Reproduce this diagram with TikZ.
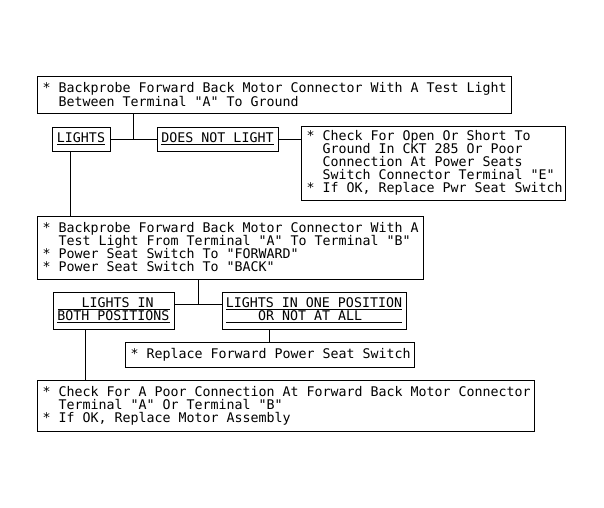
\documentclass[tikz,border=0pt]{standalone}
\usepackage{fontspec}
\newfontfamily\monofnt[WordSpace={1,0,0}]{DejaVu Sans Mono}
\newcommand\ind{\hspace*{16pt}}
\begin{document}
\begin{tikzpicture}[x=1pt,y=-1pt,
  every node/.style={font=\monofnt\fontsize{13.29}{13}\selectfont},
  frame/.style={draw, line width=1pt, inner sep=0pt, anchor=center},
  txt/.style={inner sep=0pt, align=left, anchor=west},
  lblbox/.style={draw, line width=1pt, inner sep=0pt, align=center, anchor=center},
  conn/.style={line width=1pt}]
\fill[white] (0,0) rectangle (604,507);
\path[use as bounding box] (0,0) rectangle (604,507);

\node[frame, minimum width=474pt, minimum height=37pt] (b1) at (274,94.5) {};
\node[txt] (b1t) at ([xshift=6pt]b1.west)
  {* Backprobe Forward Back Motor Connector With A Test Light\\
   \ind Between Terminal "A" To Ground};

\node[lblbox, minimum width=58pt, minimum height=24pt] (lights) at (81,139)
  {\underline{LIGHTS}};
\node[lblbox, minimum width=121pt, minimum height=24pt] (dnl) at (217.5,139)
  {\underline{DOES NOT LIGHT}};

\node[frame, minimum width=264pt, minimum height=74pt] (b3) at (433,163) {};
\node[txt] (b3t) at ([xshift=6pt]b3.west)
  {* Check For Open Or Short To\\
   \ind Ground In CKT 285 Or Poor\\
   \ind Connection At Power Seats\\
   \ind Switch Connector Terminal "E"\\\relax
   * If OK, Replace Pwr Seat Switch};

\node[frame, minimum width=386pt, minimum height=63pt] (b2) at (230,247.5) {};
\node[txt] (b2t) at ([xshift=6pt]b2.west)
  {* Backprobe Forward Back Motor Connector With A\\
   \ind Test Light From Terminal "A" To Terminal "B"\\\relax
   * Power Seat Switch To "FORWARD"\\\relax
   * Power Seat Switch To "BACK"};

\node[lblbox, minimum width=121pt, minimum height=37pt] (both) at (113.5,310.5)
  {\underline{\makebox[112pt][l]{\hspace*{24pt}LIGHTS IN}}\\
   \underline{BOTH POSITIONS}};
\node[lblbox, minimum width=184pt, minimum height=37pt] (one) at (314,310.5)
  {\underline{LIGHTS IN ONE POSITION}\\
   \underline{\makebox[176pt][l]{\hspace*{32pt}OR NOT AT ALL}}};

\node[frame, minimum width=289pt, minimum height=25pt] (repl) at (269.5,354.5) {};
\node[txt] (replt) at ([xshift=6pt]repl.west)
  {* Replace Forward Power Seat Switch};

\node[frame, minimum width=497pt, minimum height=51pt] (b5) at (285.5,405.5) {};
\node[txt] (b5t) at ([xshift=6pt]b5.west)
  {* Check For A Poor Connection At Forward Back Motor Connector\\
   \ind Terminal "A" Or Terminal "B"\\\relax
   * If OK, Replace Motor Assembly};

\coordinate (j1) at (133,139);
\coordinate (x1) at (70,0);
\coordinate (j2) at (198,304);
\coordinate (x2) at (85,0);

\draw[conn] (lights.east) -- (dnl.west);
\draw[conn] (b1.south -| j1) -- (j1);
\draw[conn] (dnl.east) -- (b3.west |- dnl.east);
\draw[conn] (lights.south -| x1) -- (b2.north -| x1);
\draw[conn] (both.east |- j2) -- (one.west |- j2);
\draw[conn] (b2.south -| j2) -- (j2);
\draw[conn] (one.south -| repl.north) -- (repl.north);
\draw[conn] (both.south -| x2) -- (b5.north -| x2);
\end{tikzpicture}
\end{document}
